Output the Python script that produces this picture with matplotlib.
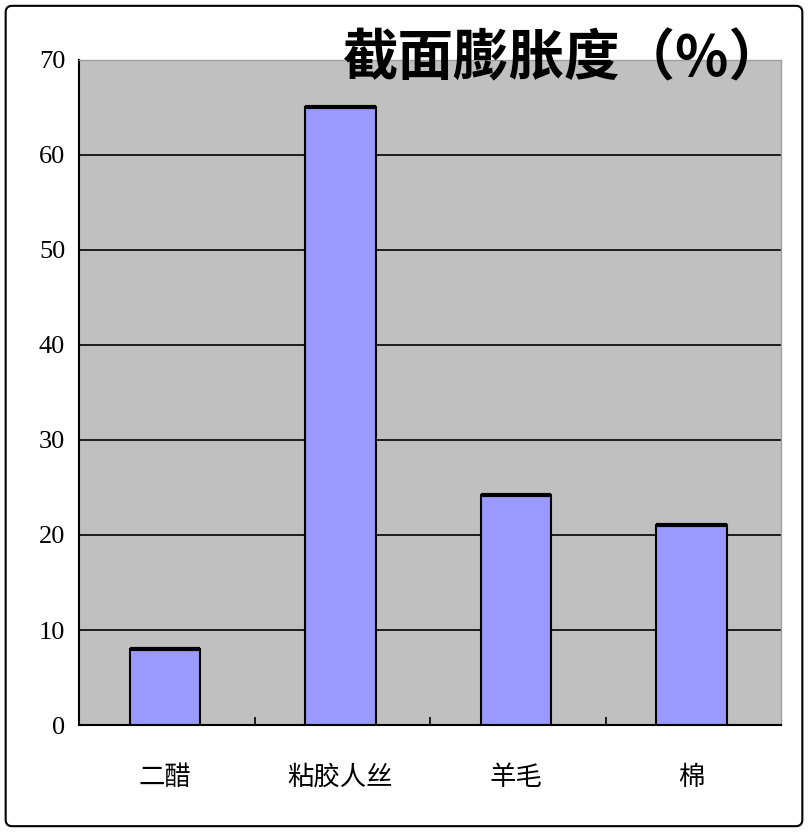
import matplotlib
matplotlib.use("Agg")
import matplotlib.pyplot as plt
from matplotlib.patches import FancyBboxPatch

categories = ["二醋", "粘胶人丝", "羊毛", "棉"]
values = [8, 65, 24.2, 21]
yticks = [0, 10, 20, 30, 40, 50, 60, 70]
title = "截面膨胀度（%）"

plt.rcParams['font.family'] = ['Noto Sans CJK SC', 'DejaVu Sans']

fig = plt.figure(figsize=(8.08, 8.32), dpi=100)
fig.patch.set_facecolor("white")
border = FancyBboxPatch((0.007, 0.007), 0.986, 0.986, boxstyle="round,pad=0,rounding_size=0.008",
                        transform=fig.transFigure, fill=False, edgecolor="black", linewidth=1.5)
fig.patches.append(border)

ax = fig.add_axes([0.0978, 0.1286, 0.8688, 0.7993])
ax.set_facecolor("#C0C0C0")
x = [i + 0.49 for i in range(len(categories))]
ax.bar(x, values, width=0.4, color="#9999FF", edgecolor="black", linewidth=1.5, zorder=3)
ax.hlines(values, [v - 0.2 for v in x], [v + 0.2 for v in x], color="black", linewidth=3, zorder=4)
ax.set_xlim(0, len(categories))
ax.set_ylim(0, 70)
ax.set_yticks(yticks)
ax.set_yticklabels([str(t) for t in yticks], family="Liberation Serif", fontsize=19)
ax.yaxis.grid(True, color="black", linewidth=1.2, zorder=1)
ax.set_axisbelow(True)
ax.tick_params(axis="y", length=0, pad=10)
ax.set_xticks(range(1, len(categories)))
ax.set_xticklabels([])
ax.set_xticks(x, minor=True)
ax.set_xticklabels(categories, minor=True, fontsize=19)
ax.tick_params(axis="x", which="major", direction="in", length=6, width=1.2)
ax.tick_params(axis="x", which="minor", length=0, pad=28)
for s in ["left", "bottom"]:
    ax.spines[s].set_color("black")
    ax.spines[s].set_linewidth(1.5)
for s in ["top", "right"]:
    ax.spines[s].set_color("#A0A0A0")
    ax.spines[s].set_linewidth(1)

fig.text(0.698, 0.929, title, ha="center", va="center", fontsize=40, fontweight="bold", zorder=5)

fig.savefig("out.png", dpi=100)
